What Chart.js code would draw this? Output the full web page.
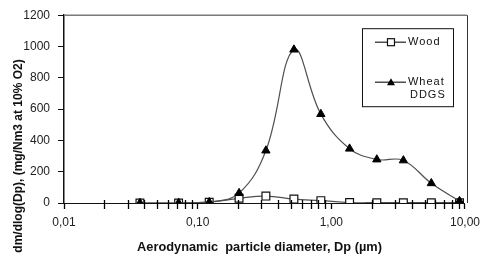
<!DOCTYPE html>
<html><head><meta charset="utf-8">
<script src="https://cdn.jsdelivr.net/npm/chart.js@4/dist/chart.umd.min.js"></script>
<style>html,body{margin:0;padding:0;background:#fff}#wrap{width:486px;height:263px;position:relative}</style>
</head><body><div id="wrap"><canvas id="c"></canvas></div>
<script>
const diameters = [0.037, 0.072, 0.122, 0.204, 0.324, 0.525, 0.835, 1.37, 2.19, 3.46, 5.6, 9.1];
const wood = [0, 0, 5, 30, 44, 25, 15, 3, 2, 2, 2, 2];
const wheat = [0, 0, 5, 63, 335, 980, 568, 347, 278, 272, 126, 12];
const yTicks = [0, 200, 400, 600, 800, 1000, 1200];
const xDecades = [0.01, 0.1, 1, 10];
const xMinorSteps = [2, 3, 4, 5, 6, 7, 8, 9];
const seriesNames = ['Wood', 'Wheat DDGS'];
const xTitle = 'Aerodynamic  particle diameter, Dp (µm)';
const yTitle = 'dm/dlog(Dp), (mg/Nm3 at 10% O2)';

const pts = arr => diameters.map((d, i) => ({x: d, y: arr[i]}));

const decor = {
  id: 'decor',
  afterDraw(chart) {
    const ctx = chart.ctx, a = chart.chartArea, xs = chart.scales.x;
    ctx.save();
    // minor x ticks
    ctx.strokeStyle = '#000';
    ctx.lineWidth = 1.3;
    for (let i = 0; i < xDecades.length - 1; i++) {
      for (const k of xMinorSteps) {
        const px = Math.round(xs.getPixelForValue(xDecades[i] * k)) + 0.5;
        ctx.beginPath();
        ctx.moveTo(px, a.bottom - 3);
        ctx.lineTo(px, a.bottom + 6);
        ctx.stroke();
      }
    }
    // top and right frame
    ctx.strokeStyle = '#7a7a7a'; ctx.lineWidth = 1.5;
    ctx.beginPath(); ctx.moveTo(a.left, a.top); ctx.lineTo(a.right + 2, a.top); ctx.stroke();
    ctx.strokeStyle = '#333'; ctx.lineWidth = 1;
    ctx.beginPath(); ctx.moveTo(a.right + 2.5, a.top); ctx.lineTo(a.right + 2.5, a.bottom); ctx.stroke();
    // titles
    ctx.fillStyle = '#111';
    ctx.font = 'bold 12.8px "Liberation Sans", Arial, sans-serif';
    ctx.textAlign = 'center'; ctx.textBaseline = 'middle';
    ctx.fillText(xTitle, (a.left + a.right) / 2 - 5, a.bottom + 44);
    ctx.save();
    ctx.font = 'bold 12px "Liberation Sans", Arial, sans-serif';
    ctx.translate(19, a.bottom - 47);
    ctx.rotate(-Math.PI / 2);
    ctx.fillText(yTitle, 0, 0);
    ctx.restore();
    // legend
    const bx = a.right - 103, by = a.top + 13, bw = 91, bh = 78;
    ctx.strokeStyle = '#111'; ctx.lineWidth = 1;
    ctx.strokeRect(bx + 0.5, by + 0.5, bw, bh);
    ctx.font = '11px "Liberation Sans", Arial, sans-serif';
    ctx.textAlign = 'left';
    try { ctx.letterSpacing = '1px'; } catch (e) {}
    const lx1 = bx + 13, lx2 = bx + 44, mx = bx + 29;
    const rows = [by + 14, by + 54];
    ctx.strokeStyle = '#222'; ctx.lineWidth = 1.2;
    rows.forEach(y => { ctx.beginPath(); ctx.moveTo(lx1, y); ctx.lineTo(lx2, y); ctx.stroke(); });
    ctx.fillStyle = '#fff'; ctx.strokeStyle = '#111';
    ctx.fillRect(mx - 3.5, rows[0] - 3.5, 7, 7); ctx.strokeRect(mx - 3.5, rows[0] - 3.5, 7, 7);
    ctx.fillStyle = '#000';
    ctx.beginPath(); ctx.moveTo(mx, rows[1] - 4); ctx.lineTo(mx + 4, rows[1] + 3); ctx.lineTo(mx - 4, rows[1] + 3); ctx.closePath(); ctx.fill();
    ctx.fillStyle = '#111';
    ctx.fillText(seriesNames[0], lx2 + 2, rows[0]);
    const parts = seriesNames[1].split(' ');
    ctx.fillText(parts[0], lx2 + 2, rows[1]);
    ctx.fillText(parts[1], lx2 + 4, rows[1] + 13);
    ctx.restore();
  }
};

new Chart(document.getElementById('c'), {
  type: 'scatter',
  data: {
    datasets: [
      {label: seriesNames[1], data: pts(wheat), showLine: true, tension: 0.4,
       borderColor: '#505050', borderWidth: 1.2, pointStyle: 'triangle', pointRadius: 4.8,
       pointBackgroundColor: '#000', pointBorderColor: '#000', pointBorderWidth: 1},
      {label: seriesNames[0], data: pts(wood), showLine: true, tension: 0.4,
       borderColor: '#505050', borderWidth: 1.2, pointStyle: 'rect', pointRadius: 5.5,
       pointBackgroundColor: '#fff', pointBorderColor: '#111', pointBorderWidth: 1.2}
    ]
  },
  options: {
    responsive: true, maintainAspectRatio: false, animation: false, devicePixelRatio: 1,
    layout: {padding: {top: 13, right: 19, left: 0, bottom: 0}},
    plugins: {legend: {display: false}, tooltip: {enabled: false}},
    scales: {
      x: {
        type: 'logarithmic', min: 0.01, max: 10,
        afterBuildTicks: s => { s.ticks = xDecades.map(v => ({value: v})); },
        afterFit: s => { s.height = 60; },
        ticks: {
          autoSkip: false, maxRotation: 0, padding: 6, color: '#222',
          font: {family: '"Liberation Sans", Arial, sans-serif', size: 12},
          callback: (v) => Number(v).toFixed(2).replace('.', ',')
        },
        grid: {drawOnChartArea: false, tickLength: 6, color: '#000', tickWidth: 1.3},
        border: {color: '#111', width: 1}
      },
      y: {
        min: 0, max: 1200,
        afterBuildTicks: s => { s.ticks = yTicks.map(v => ({value: v})); },
        afterFit: s => { s.width = 64; },
        ticks: {padding: 8, color: '#222', font: {family: '"Liberation Sans", Arial, sans-serif', size: 12},
                callback: v => String(v)},
        grid: {drawOnChartArea: false, tickLength: 6, color: '#111'},
        border: {color: '#111', width: 1.5}
      }
    }
  },
  plugins: [decor]
});
</script>
</body></html>
